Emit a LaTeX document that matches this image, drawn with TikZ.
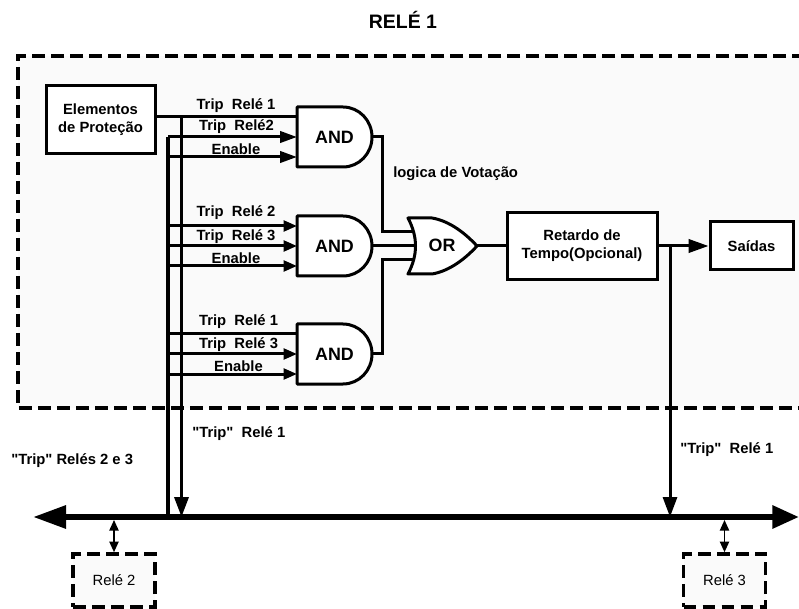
\documentclass[tikz,border=0pt]{standalone}
\usepackage{fontspec}
\setmainfont[Ligatures=TeXOff]{Liberation Sans}
\usepackage{xcolor}
\usetikzlibrary{arrows.meta, positioning}
\definecolor{panelgray}{HTML}{FAFAFA}

\tikzset{
  wire/.style={line width=2.25pt},
  sig/.style={wire, -{Triangle[length=10pt,width=8pt]}},
  siglong/.style={wire, -{Triangle[length=12.75pt,width=8.5pt]}},
  blockbox/.style={draw, fill=white, line width=2.25pt, align=center, font=\fontsize{11.1}{13.5}\selectfont\bfseries, inner sep=0pt},
  gatetext/.style={inner sep=0pt, font=\fontsize{13.4}{15}\selectfont\bfseries},
  gateline/.style={draw, fill=white, line width=2.25pt, line join=round},
  sigtext/.style={inner sep=0pt, font=\fontsize{11.1}{13}\selectfont\bfseries},
  dashline/.style={line width=2.7pt, dash pattern=on 9.5pt off 4.75pt},
  remotebox/.style={draw, dashline, fill=panelgray, inner sep=0pt, font=\fontsize{11.1}{13}\selectfont,
    minimum width=61.5pt, minimum height=39.75pt},
}

\begin{document}
\begin{tikzpicture}[x=0.75pt, y=-0.75pt]
  \useasboundingbox (0,0) rectangle (799,609);
  \node[inner sep=0pt, font=\fontsize{14.6}{16}\selectfont\bfseries] (title) at (403,20) {RELÉ 1};

  % relay panel, open on the right
  \fill[panelgray] (18,56) rectangle (805,408);
  \draw[dashline] (805,56) -- (18,56) -- (18,408) -- (805,408);

  % blocks
  \node[blockbox, minimum width=81.75pt, minimum height=51pt] (elem) at (100.5,120) {Elementos\\de Proteção};
  \node[blockbox, minimum width=112.5pt, minimum height=50.25pt] (delay) at (582,246) {Retardo de\\Tempo(Opcional)};
  \node[blockbox, minimum width=62.25pt, minimum height=36pt] (saidas) at (751.5,246) {Saídas};

  % rails and bus
  \coordinate (railA) at (168,137);
  \coordinate (railB) at (181.5,117);
  \coordinate (railC) at (670,246);
  \coordinate (busL) at (33,517);
  \coordinate (busR) at (799,517);
  \coordinate (vote) at (382,246);
  \coordinate (or-in1) at (414,232);
  \coordinate (or-in2) at (416,246);
  \coordinate (or-in3) at (414,260);
  \coordinate (or-out) at (477,246);

  % and gates with their inputs
  \foreach \gname/\gy in {and1/137, and2/246, and3/354}{
    \node[gatetext, minimum width=56.25pt, minimum height=45pt] (\gname) at (334.5,\gy) {AND};
    \coordinate (\gname-in1) at (297,{\gy-20});
    \coordinate (\gname-in2) at (297,\gy);
    \coordinate (\gname-in3) at (297,{\gy+20});
  }

  \draw[wire] (elem.east |- and1-in1) -- (and1-in1);
  \draw[siglong] (railA) -- (and1-in2);
  \draw[siglong] (railA |- and1-in3) -- (and1-in3);
  \draw[sig] (railA |- and2-in1) -- (and2-in1);
  \draw[sig] (railA |- and2-in2) -- (and2-in2);
  \draw[sig] (railA |- and2-in3) -- (and2-in3);
  \draw[wire] (railA |- and3-in1) -- (and3-in1);
  \draw[sig] (railA |- and3-in2) -- (and3-in2);
  \draw[sig] (railA |- and3-in3) -- (and3-in3);

  \draw[wire] (and1.east) -| (vote |- or-in1) -- (or-in1);
  \draw[wire] (and2.east) -- (or-in2);
  \draw[wire] (and3.east) -| (vote |- or-in3) -- (or-in3);
  \draw[wire] (or-out) -- (delay.west);
  \draw[wire, -{Triangle[length=15pt,width=10pt]}] (delay.east) -- (saidas.west);

  % gate outlines
  \foreach \gname/\gy in {and1/137, and2/246, and3/354}{
    \path[gateline] (297,{\gy-30}) -- (343,{\gy-30}) arc[start angle=-90, end angle=90, x radius=29, y radius=30] -- (297,{\gy+30}) -- cycle;
    \node[gatetext] at (\gname) {AND};
  }
  \path[gateline] (408,218) -- (432,218) .. controls (450,221) and (466,234) .. (or-out)
    .. controls (466,258) and (450,271) .. (432,274) -- (408,274)
    .. controls (418,255) and (418,237) .. (408,218) -- cycle;
  \node[gatetext] (orgate) at (442,245) {OR};

  % vertical runs
  \draw[line width=2.6pt] (railA) -- (railA |- busL);
  \draw[line width=2.6pt, -{Triangle[length=15pt,width=10.5pt]}] (railB) -- (railB |- busL);
  \draw[wire, -{Triangle[length=15pt,width=10.5pt]}] (railC) -- (railC |- busL);

  % bus
  \draw[line width=4.5pt, {Triangle[length=24.75pt,width=16.5pt]}-{Triangle[length=20pt,width=16.5pt]}] (busL) -- (busR);

  % remote relays
  \node[remotebox] (rele2) at (114,580.5) {Relé 2};
  \node[remotebox] (rele3) at (724.5,580.5) {Relé 3};
  \draw[line width=1.1pt, {Triangle[length=8pt,width=7pt]}-{Triangle[length=8pt,width=7pt]}] (rele2.north |- busL) ++(0,3) -- (rele2.north);
  \draw[line width=1.1pt, {Triangle[length=8pt,width=7pt]}-{Triangle[length=8pt,width=7pt]}] (rele3.north |- busL) ++(0,3) -- (rele3.north);

  % labels
  \node[sigtext] (lab1a) at (236,106) {Trip\ \ Relé 1};
  \node[sigtext] (lab1b) at (236.5,127) {Trip\ \ Relé2};
  \node[sigtext] (lab1c) at (236,149) {Enable};
  \node[sigtext] (lab2a) at (236,213) {Trip\ \ Relé 2};
  \node[sigtext] (lab2b) at (236,237) {Trip\ \ Relé 3};
  \node[sigtext] (lab2c) at (236,258) {Enable};
  \node[sigtext] (lab3a) at (238.5,322) {Trip\ \ Relé 1};
  \node[sigtext] (lab3b) at (238.5,345) {Trip\ \ Relé 3};
  \node[sigtext] (lab3c) at (238.5,366) {Enable};
  \node[sigtext, anchor=west] (labvote) at (393,174) {logica de Votação};
  \node[sigtext, anchor=west] (labtrip1) at (192,434) {"Trip"\ \ Relé 1};
  \node[sigtext, anchor=west] (labtrip23) at (11,461) {"Trip" Relés 2 e 3};
  \node[sigtext, anchor=west] (labtrip3) at (680,450) {"Trip"\ \ Relé 1};
\end{tikzpicture}
\end{document}
